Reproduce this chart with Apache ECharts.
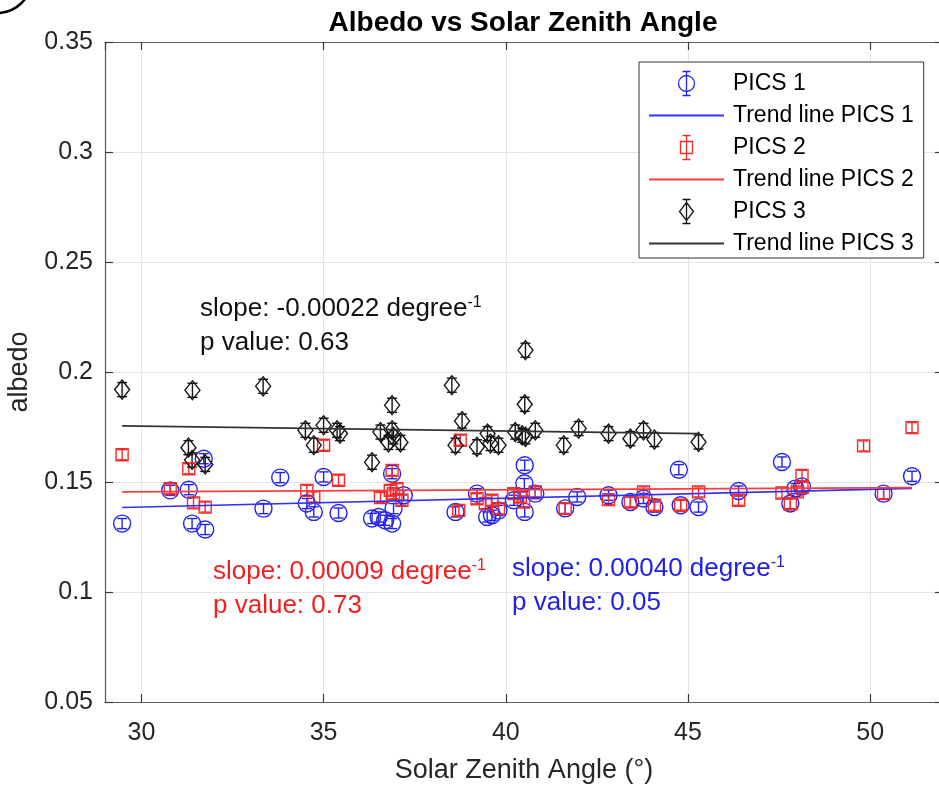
<!DOCTYPE html>
<html>
<head>
<meta charset="utf-8">
<script src="https://cdn.jsdelivr.net/npm/echarts@6/dist/echarts.min.js"></script>
<style>
  html, body { margin: 0; padding: 0; background: #ffffff; }
  #chart { width: 939px; height: 785px; }
</style>
</head>
<body>
<div id="chart"></div>
<script>
// PICS 1: solar zenith angle (deg) and albedo
const angle1 = [29.47, 30.79, 31.30, 31.39, 31.75, 31.71, 33.35, 33.81, 34.54, 34.73, 35.00, 35.41,
  36.33, 36.51, 36.69, 36.88, 36.92, 36.88, 37.20, 38.62, 39.21, 39.49, 39.62, 39.80, 40.22, 40.52,
  40.51, 40.52, 40.81, 41.63, 41.96, 42.82, 43.42, 43.78, 44.08, 44.75, 44.80, 45.29, 46.39, 47.58,
  47.81, 47.95, 48.13, 50.37, 51.15];
const albedo1 = [0.1311, 0.1462, 0.1465, 0.1311, 0.1284, 0.1606, 0.1379, 0.1520, 0.1402, 0.1364, 0.1523, 0.1359,
  0.1334, 0.1341, 0.1326, 0.1311, 0.1379, 0.1538, 0.1440, 0.1364, 0.1447, 0.1341, 0.1349, 0.1371, 0.1417, 0.1576,
  0.1493, 0.1364, 0.1447, 0.1380, 0.1432, 0.1440, 0.1409, 0.1425, 0.1386, 0.1556, 0.1394, 0.1386, 0.1459, 0.1591,
  0.1402, 0.1470, 0.1480, 0.1447, 0.1526];
const err1 = 0.0023;

// PICS 2
const angle2 = [29.47, 30.79, 31.30, 31.43, 31.75, 34.54, 34.73, 35.00, 35.41, 36.56, 36.83, 36.88,
  36.92, 37.01, 37.15, 38.75, 38.71, 39.21, 39.44, 39.62, 39.80, 40.22, 40.40, 40.49, 40.81, 41.63,
  42.82, 43.42, 43.78, 44.08, 44.80, 45.29, 46.39, 47.58, 47.81, 48.00, 48.13, 48.13, 49.82, 50.37, 51.15];
const albedo2 = [0.1624, 0.1470, 0.1560, 0.1405, 0.1386, 0.1462, 0.1432, 0.1667, 0.1508, 0.1429, 0.1462, 0.1553,
  0.1447, 0.1470, 0.1417, 0.1690, 0.1371, 0.1424, 0.1402, 0.1417, 0.1379, 0.1447, 0.1432, 0.1409, 0.1455, 0.1379,
  0.1420, 0.1409, 0.1455, 0.1394, 0.1394, 0.1455, 0.1417, 0.1450, 0.1400, 0.1455, 0.1530, 0.1475, 0.1664, 0.1447, 0.1747];
const err2 = 0.0023;

// PICS 3
const angle3 = [29.47, 31.40, 33.34, 31.29, 31.39, 31.75, 34.50, 34.73, 35.00, 35.37, 35.45, 36.33,
  36.56, 36.78, 36.88, 36.88, 36.92, 37.11, 38.52, 38.62, 38.80, 39.21, 39.50, 39.58, 39.80, 40.26,
  40.45, 40.54, 40.52, 40.54, 40.81, 41.59, 42.00, 42.82, 43.42, 43.78, 44.08, 45.29];
const albedo3 = [0.1920, 0.1917, 0.1935, 0.1656, 0.1600, 0.1580, 0.1735, 0.1667, 0.1758, 0.1735, 0.1720, 0.1590,
  0.1727, 0.1680, 0.1849, 0.1735, 0.1705, 0.1680, 0.1940, 0.1667, 0.1777, 0.1660, 0.1720, 0.1675, 0.1667, 0.1727,
  0.1712, 0.1705, 0.1853, 0.2099, 0.1735, 0.1667, 0.1743, 0.1720, 0.1697, 0.1735, 0.1693, 0.1682];
const err3 = 0.0032;

// Linear fits: x range, value at the first x, slope (per degree), p value
const fitRange1 = [29.47, 51.15];
const fitStart1 = 0.1384;
const slope1 = 0.00040;
const pValue1 = 0.05;

const fitRange2 = [29.47, 51.15];
const fitStart2 = 0.1455;
const slope2 = 0.00009;
const pValue2 = 0.73;

const fitRange3 = [29.47, 45.29];
const fitStart3 = 0.1755;
const slope3 = -0.00022;
const pValue3 = 0.63;

const seriesNames = ['PICS 1', 'PICS 2', 'PICS 3'];
const trendNames = ['Trend line PICS 1', 'Trend line PICS 2', 'Trend line PICS 3'];

const FONT = "'Liberation Sans', Arial, Helvetica, sans-serif";
const BLUE = '#2323ee';
const RED = '#f02c2c';
const BLACK = '#141414';
const BLUE_LINE = '#3030ff';
const RED_LINE = '#ff3c3c';
const BLACK_LINE = '#333333';

function zip3(xs, ys, e) { return xs.map((x, i) => [x, ys[i], e]); }
function zip2(xs, ys) { return xs.map((x, i) => [x, ys[i]]); }
function fitLine(range, y0, k) { return range.map(x => [x, y0 + k * (x - range[0])]); }

function errorBarSeries(name, data, color) {
  return {
    name: name,
    type: 'custom',
    silent: true,
    data: data,
    encode: { x: 0, y: 1 },
    renderItem: function (params, api) {
      const x = api.value(0), y = api.value(1), e = api.value(2);
      const top = api.coord([x, y + e]);
      const bot = api.coord([x, y - e]);
      const hw = 5;
      const st = { stroke: color, lineWidth: 1.4 };
      return {
        type: 'group',
        children: [
          { type: 'line', shape: { x1: top[0], y1: top[1], x2: bot[0], y2: bot[1] }, style: st },
          { type: 'line', shape: { x1: top[0] - hw, y1: top[1], x2: top[0] + hw, y2: top[1] }, style: st },
          { type: 'line', shape: { x1: bot[0] - hw, y1: bot[1], x2: bot[0] + hw, y2: bot[1] }, style: st }
        ]
      };
    }
  };
}

function markerSeries(name, data, symbol, size, color) {
  return {
    name: name,
    type: 'scatter',
    data: data,
    symbol: symbol,
    symbolSize: size,
    silent: true,
    itemStyle: { color: 'rgba(0,0,0,0)', borderColor: color, borderWidth: 1.4, opacity: 1 },
    emphasis: { disabled: true }
  };
}

function trendSeries(name, data, color) {
  return {
    name: name,
    type: 'line',
    data: data,
    symbol: 'none',
    silent: true,
    lineStyle: { color: color, width: 1.7 },
    itemStyle: { color: color },
    emphasis: { disabled: true }
  };
}

const iconCircle = 'path://M8,0L8,24M4,0L12,0M4,24L12,24M8,4A8,8,0,1,0,8,20A8,8,0,1,0,8,4Z';
const iconSquare = 'path://M6,0L6,24M2,0L10,0M2,24L10,24M0,6L12,6L12,18L0,18Z';
const iconDiamond = 'path://M7,0L7,24M3,0L11,0M3,24L11,24M7,3L14,12L7,21L0,12Z';

const chart = echarts.init(document.getElementById('chart'), null, { renderer: 'canvas' });

const tickLabelStyle = { fontSize: 25, color: '#262626', fontFamily: FONT };
const axisLineStyle = { color: '#5a5a5a', width: 1.2 };
const tickStyle = { color: '#3a3a3a', width: 1.2 };
const gridLineStyle = { color: '#e4e4e4', width: 1 };

const option = {
  animation: false,
  backgroundColor: '#ffffff',
  title: {
    text: 'Albedo vs Solar Zenith Angle',
    left: 523,
    top: 9,
    textAlign: 'center',
    padding: 0,
    textStyle: { fontSize: 28, fontWeight: 'bold', color: '#000', fontFamily: FONT }
  },
  grid: {
    left: 105, top: 42, right: -4, bottom: 83,
    containLabel: false,
    outerBoundsMode: 'none',
    show: false
  },
  legend: {
    orient: 'vertical',
    left: 639,
    top: 62,
    padding: [7, 10, 3, 9],
    itemGap: 6,
    itemWidth: 75,
    itemHeight: 24,
    backgroundColor: '#ffffff',
    borderColor: '#333333',
    borderWidth: 1,
    borderRadius: 0,
    selectedMode: false,
    textStyle: { fontSize: 23, color: '#000', fontFamily: FONT, padding: [0, 0, 0, 4] },
    data: [
      { name: seriesNames[0], icon: iconCircle, itemStyle: { color: 'none', borderColor: BLUE, borderWidth: 1.3 } },
      { name: trendNames[0], itemStyle: { opacity: 0 } },
      { name: seriesNames[1], icon: iconSquare, itemStyle: { color: 'none', borderColor: RED, borderWidth: 1.3 } },
      { name: trendNames[1], itemStyle: { opacity: 0 } },
      { name: seriesNames[2], icon: iconDiamond, itemStyle: { color: 'none', borderColor: BLACK, borderWidth: 1.3 } },
      { name: trendNames[2], itemStyle: { opacity: 0 } }
    ]
  },
  xAxis: [
    {
      type: 'value', position: 'bottom', min: 29, max: 52,
      splitNumber: 5, minInterval: 5, maxInterval: 5,
      name: 'Solar Zenith Angle (°)', nameLocation: 'middle', nameGap: 55, nameMoveOverlap: false,
      nameTextStyle: { fontSize: 27, color: '#262626', fontFamily: FONT },
      axisLine: { show: true, onZero: false, lineStyle: axisLineStyle },
      axisTick: { show: true, inside: true, length: 8, lineStyle: tickStyle },
      axisLabel: Object.assign({ margin: 19, showMinLabel: false, showMaxLabel: false }, tickLabelStyle),
      splitLine: { show: true, lineStyle: gridLineStyle }
    },
    {
      type: 'value', position: 'top', min: 29, max: 52,
      splitNumber: 5, minInterval: 5, maxInterval: 5,
      axisLine: { show: true, onZero: false, lineStyle: axisLineStyle },
      axisTick: { show: true, inside: true, length: 8, lineStyle: tickStyle },
      axisLabel: { show: false },
      splitLine: { show: false }
    }
  ],
  yAxis: [
    {
      type: 'value', position: 'left', min: 0.05, max: 0.35, interval: 0.05,
      name: 'albedo', nameLocation: 'middle', nameGap: 72, nameRotate: 90, nameMoveOverlap: false,
      nameTextStyle: { fontSize: 27, color: '#262626', fontFamily: FONT },
      axisLine: { show: true, onZero: false, lineStyle: axisLineStyle },
      axisTick: { show: true, inside: true, length: 8, lineStyle: tickStyle },
      axisLabel: Object.assign({ margin: 12, formatter: v => String(+v.toFixed(2)) }, tickLabelStyle),
      splitLine: { show: true, lineStyle: gridLineStyle }
    },
    {
      type: 'value', position: 'right', min: 0.05, max: 0.35, interval: 0.05,
      axisLine: { show: true, onZero: false, lineStyle: axisLineStyle },
      axisTick: { show: true, inside: true, length: 8, lineStyle: tickStyle },
      axisLabel: { show: false },
      splitLine: { show: false }
    }
  ],
  series: [
    errorBarSeries('PICS 1 error', zip3(angle1, albedo1, err1), BLUE),
    markerSeries(seriesNames[0], zip2(angle1, albedo1), 'circle', 17, BLUE),
    trendSeries(trendNames[0], fitLine(fitRange1, fitStart1, slope1), BLUE_LINE),
    errorBarSeries('PICS 2 error', zip3(angle2, albedo2, err2), RED),
    markerSeries(seriesNames[1], zip2(angle2, albedo2), 'rect', 12, RED),
    trendSeries(trendNames[1], fitLine(fitRange2, fitStart2, slope2), RED_LINE),
    errorBarSeries('PICS 3 error', zip3(angle3, albedo3, err3), BLACK),
    markerSeries(seriesNames[2], zip2(angle3, albedo3), 'diamond', [15, 19], BLACK),
    trendSeries(trendNames[2], fitLine(fitRange3, fitStart3, slope3), BLACK_LINE)
  ]
};

chart.setOption(option);

// Fit statistics written next to each group of points
function statText(x, y, slope, p, color) {
  const rich = {
    m: { fontSize: 26, fontFamily: FONT, fill: color, color: color },
    s: { fontSize: 16, fontFamily: FONT, fill: color, color: color, verticalAlign: 'top', padding: [0, 0, 12, 0] }
  };
  return [
    {
      type: 'text', x: x, y: y, silent: true,
      style: { text: '{m|slope: ' + slope.toFixed(5) + ' degree}{s|-1}', rich: rich, fill: color, verticalAlign: 'middle', align: 'left' }
    },
    {
      type: 'text', x: x, y: y + 34, silent: true,
      style: { text: 'p value: ' + p.toFixed(2), fill: color, fontSize: 26, fontFamily: FONT, verticalAlign: 'middle', align: 'left' }
    }
  ];
}

chart.setOption({
  graphic: [
    { type: 'circle', silent: true, shape: { cx: -3, cy: -22, r: 35 }, style: { fill: 'none', stroke: '#000', lineWidth: 2.5 } }
  ].concat(
    statText(200, 309, slope3, pValue3, '#111111'),
    statText(213, 572, slope2, pValue2, '#f02020'),
    statText(512, 569, slope1, pValue1, '#2020e6')
  )
});
</script>
</body>
</html>
